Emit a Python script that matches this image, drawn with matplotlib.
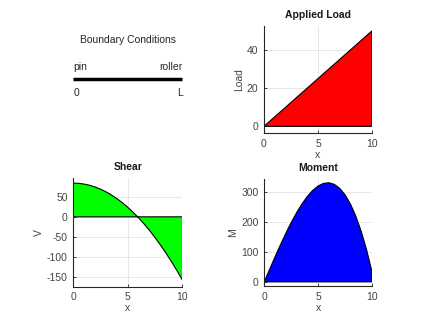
import numpy as np
import matplotlib.pyplot as plt
from matplotlib.lines import Line2D

plt.rcParams['font.family'] = ['Liberation Sans', 'DejaVu Sans']
plt.rcParams['font.size'] = 7.5
plt.rcParams['axes.unicode_minus'] = False

# posiciones a lo largo de la viga
x = [0, 0.5, 1, 1.5, 2, 2.5, 3, 3.5, 4, 4.5, 5,
     5.5, 6, 6.5, 7, 7.5, 8, 8.5, 9, 9.5, 10]

# carga aplicada (triangular)
carga = [0, 2.5, 5, 7.5, 10, 12.5, 15, 17.5, 20, 22.5, 25,
         27.5, 30, 32.5, 35, 37.5, 40, 42.5, 45, 47.5, 50]

# cortante
cortante = [84, 83.4, 81.6, 78.6, 74.3, 68.9, 62.2, 54.4, 45.3, 35.0, 23.5,
            10.8, -3.1, -18.2, -34.6, -52.1, -70.9, -90.8, -112.0, -134.4, -158.0]

# momento
momento = [0, 41.9, 83.2, 123.3, 161.6, 197.4, 230.2, 259.4, 284.4, 304.5, 319.2,
           327.8, 329.8, 324.5, 311.3, 289.7, 259.0, 218.6, 167.9, 106.4, 33.3]

GRIS = '#454545'


def estilo(ax, yticks, ylim, ylabel, titulo):
    ax.set_xlim(0, 10)
    ax.set_ylim(*ylim)
    ax.set_xticks([0, 5, 10])
    ax.set_yticks(yticks)
    ax.grid(True, color='#e3e3e3', linewidth=0.6)
    ax.set_axisbelow(True)
    for s in ['top', 'right']:
        ax.spines[s].set_visible(False)
    for s in ['left', 'bottom']:
        ax.spines[s].set_color('#262626')
        ax.spines[s].set_linewidth(0.8)
    ax.tick_params(direction='in', length=2.5, width=0.6, colors='#262626',
                   labelcolor=GRIS, labelsize=7.5, pad=4)
    ax.set_xlabel('x', color=GRIS, labelpad=1)
    ax.set_ylabel(ylabel, color=GRIS, labelpad=2)
    ax.set_title(titulo, fontweight='bold', color='#1a1a1a', fontsize=7.5, pad=6)


def poligono(xs, ys):
    # cerrar el area contra el eje y=0
    px = list(xs) + [xs[-1], xs[0]]
    py = list(ys) + [0, 0]
    return px, py


fig = plt.figure(figsize=(4.31, 3.24), dpi=100)

# condiciones de borde (panel sin ejes)
fig.text(0.297, 0.8765, 'Boundary Conditions', ha='center', va='center', color='#262626')
fig.text(0.170, 0.793, 'pin', ha='left', va='center', color='#262626')
fig.text(0.4234, 0.793, 'roller', ha='right', va='center', color='#262626')
fig.text(0.170, 0.712, '0', ha='left', va='center', color='#262626')
fig.text(0.4234, 0.712, 'L', ha='right', va='center', color='#262626')
fig.add_artist(Line2D([0.170, 0.4234], [0.756, 0.756], transform=fig.transFigure,
                      color='black', linewidth=2.5, solid_capstyle='butt'))

# carga aplicada
ax1 = fig.add_axes([0.6125, 0.5895, 0.2506, 0.330])
px, py = poligono(x, carga)
ax1.fill(px, py, facecolor='#ff0000', edgecolor='black', linewidth=0.8)
estilo(ax1, [0, 20, 40], (-3.5, 52.5), 'Load', 'Applied Load')

# cortante
ax2 = fig.add_axes([0.170, 0.1157, 0.2534, 0.334])
px, py = poligono(x, cortante)
ax2.fill(px, py, facecolor='#00ff00', edgecolor='black', linewidth=0.8)
estilo(ax2, [50, 0, -50, -100, -150], (-173.6, 96), 'V', 'Shear')

# momento
ax3 = fig.add_axes([0.6132, 0.1173, 0.2499, 0.329])
px, py = poligono(x, momento)
ax3.fill(px, py, facecolor='#0000ff', edgecolor='black', linewidth=0.8)
estilo(ax3, [0, 100, 200, 300], (-14, 341), 'M', 'Moment')

fig.savefig('out.png', dpi=100)
